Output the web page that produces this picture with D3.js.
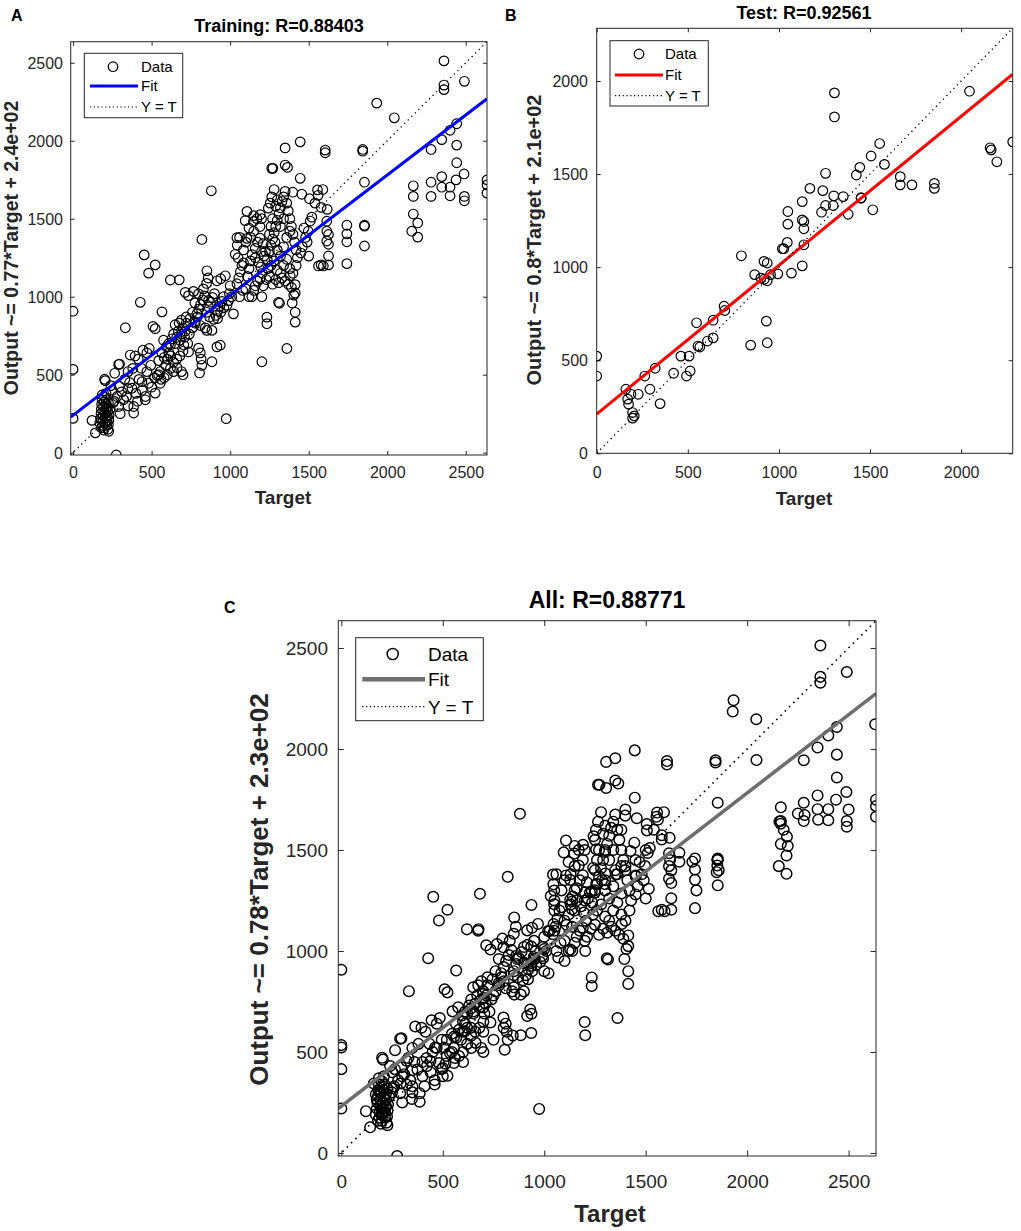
<!DOCTYPE html>
<html>
<head>
<meta charset="utf-8">
<script src="https://cdn.jsdelivr.net/npm/d3@7"></script>
<style>
  body { margin: 0; background: #fff; }
  svg { display: block; }
  text { font-family: "Liberation Sans", Arial, sans-serif; }
</style>
</head>
<body>
<svg id="chart" width="1021" height="1231"></svg>
<script>

// [target, output] pairs
const trainingPoints = [
  [0,907],[0,534],[0,220],[121,207],[142,127],[227,137],[275,-15],[975,218],[428,964],[453,1268],
  [523,1204],[481,1151],[333,801],[566,903],[509,810],[523,795],[364,626],[290,565],[205,462],[820,1367],
  [880,1679],[1202,583],[1361,668],[1314,958],[1234,869],[1234,827],[1414,900],[1414,837],[1414,1077],[1414,1024],
  [1382,1134],[1579,1204],[1626,1204],[1626,1261],[1743,1212],[1855,1325],[1743,1352],[1743,1403],[1743,1458],[1855,1458],
  [1855,1452],[1626,1336],[1626,1399],[1579,1573],[1605,1940],[1605,1923],[1844,1944],[1844,1933],[1855,1734],[1446,1993],
  [1350,1954],[1350,1844],[1365,1829],[1272,1823],[1446,1759],[1556,1685],[1456,1657],[1399,1670],[1505,1628],[1933,2241],
  [2045,2147],[2361,2512],[2491,2381],[2361,2357],[2361,2328],[2442,2109],[2400,2067],[2347,2007],[2279,1944],[2442,1972],
  [2442,1859],[2489,1787],[2438,1749],[2347,1770],[2279,1734],[2166,1711],[2166,1643],[2279,1643],[2347,1702],[2400,1702],
  [2400,1647],[2491,1643],[2491,1615],[2635,1749],[2635,1717],[2635,1664],[2166,1530],[2194,1473],[2156,1420],[2194,1382],
  // cluster near target 200
  [170,190],[175,220],[178,250],[180,280],[182,310],[185,340],[188,175],[190,205],[192,235],[195,265],
  [195,295],[198,325],[200,355],[200,160],[202,190],[205,220],[205,250],[208,280],[210,310],[212,340],
  [215,175],[215,205],[218,235],[220,265],[220,295],[222,150],[225,180],[228,210],[230,240],[185,370],
  [210,380],[225,320],[180,160],[195,145],[235,280],
  // band 230-560
  [386,254],[386,296],[375,413],[322,339],[280,360],[296,424],[290,296],[460,360],[439,455],[481,445],
  [520,480],[535,495],[545,500],[523,382],[555,445],[445,657],[485,668],[434,541],[460,339],[265,509],
  [296,568],[201,471],[250,400],[260,330],[310,390],[340,360],[350,300],[360,450],[400,380],[410,330],
  [420,470],[470,520],[495,560],[500,420],[440,400],[330,470],[300,250],[255,320],[240,430],[350,520],
  [380,540],[395,620],[415,600],[470,640],[350,410],
  // band 550-900
  [555,520],[576,721],[590,560],[600,600],[610,640],[620,690],[630,730],[640,760],[650,700],[660,740],
  [670,780],[680,720],[690,760],[700,800],[705,690],[710,740],[715,780],[720,830],[730,700],[735,646],
  [700,650],[680,620],[660,600],[640,580],[620,540],[600,500],[580,480],[560,470],[640,520],[662,545],
  [690,520],[700,500],[620,620],[650,820],[675,830],[690,850],[720,870],[740,760],[760,800],[775,840],
  [790,870],[799,670],[810,640],[815,600],[820,560],[805,511],[884,583],[916,678],[937,689],[852,784],
  [884,784],[778,830],[810,815],[842,800],[580,610],[610,700],[545,590],[565,640],[595,680],
  // cluster near target 900
  [788,890],[800,920],[812,950],[825,980],[838,1005],[850,900],[862,935],[875,965],[888,995],[900,1020],
  [910,880],[922,910],[935,940],[948,970],[958,1000],[870,870],[895,855],[920,860],[940,900],[960,930],
  [735,1007],[767,1034],[799,1018],[714,1028],[776,960],[830,1050],[850,1085],[860,1120],[852,1166],[862,976],
  [916,1102],[940,1115],[969,1134],[676,1108],[619,1107],[1021,890],[990,975],[995,1020],[1000,1070],[980,945],
  [1010,1000],[760,900],[745,860],
  // band 1040-1210
  [1043,1083],[1055,1120],[1065,1160],[1075,1200],[1085,1217],[1138,1000],[1150,1040],[1160,1070],[1175,1100],[1190,1115],
  [1202,1000],[1100,1050],[1110,1130],[1120,1180],[1130,1230],[1140,1270],[1160,1250],[1180,1220],[1195,1190],[1205,1150],
  [1215,1260],[1225,1290],[1060,1000],[1080,1040],[1120,1000],[1050,1250],[1085,1300],
  [1032,1272],[1045,1330],[1096,1488],[1148,1482],[1170,1500],[1191,1526],[1100,1350],[1130,1380],[1160,1310],
  [1175,1350],[1190,1375],[1200,1290],[1210,1340],[1150,1420],[1120,1440],[1190,1450],[1060,1380],
  [1107,1547],[1150,1520],[1200,1500],[1043,1378],[1107,1374],
  // cluster near target 1300
  [1243,1568],[1255,1600],[1265,1640],[1280,1687],[1290,1580],[1300,1620],[1265,1823],
  [1236,1240],[1250,1290],[1260,1330],[1270,1370],[1280,1410],[1290,1450],[1300,1490],[1310,1530],[1320,1570],
  [1330,1610],[1340,1640],[1350,1675],[1360,1600],[1370,1550],[1380,1500],[1390,1450],[1400,1400],[1410,1350],[1420,1300],
  [1428,1250],[1250,1400],[1260,1450],[1270,1500],[1285,1350],[1300,1300],[1320,1260],[1340,1320],[1360,1380],[1380,1420],
  [1320,1450],[1340,1500],[1240,1180],[1260,1200],[1280,1230],[1300,1170],[1320,1150],[1340,1200],[1360,1240],[1380,1180],
  [1400,1150],[1420,1200],[1211,1070],[1230,1110],[1250,1130],[1270,1080],[1290,1110],[1310,1090],[1330,1120],[1350,1100],
  [1370,1080],[1390,1060],[1405,1010],[1395,960],[1308,964],
  [1497,1420],[1510,1485],[1520,1510],[1540,1600],[1560,1650],[1590,1687],[1618,1560],[1562,1197],[1593,1197],[1615,1484],
  [1615,1420],[1615,1357],[1480,1380],[1460,1320],[1450,1280],[1470,1440],[1490,1350],[1500,1260]
];

const validationPoints = [
  [2631,2122],[1929,2185],[683,1283],[937,1228],[674,1100],[1199,648],[2200,1520],[2180,1600],[1850,1390],
  [250,300],[300,380],[400,450],[450,500],[520,560],[600,650],[650,690],[700,720],[750,780],[800,850],
  [850,880],[900,940],[950,960],[1000,1010],[1050,1100],[1100,1150],[1150,1200],[1200,1250],[1250,1300],
  [1300,1350],[1350,1400],[1400,1420],[1450,1450],[1500,1500],[180,250],[190,300],[200,200],[210,270],
  [220,230],[700,600],[750,560],[800,620],[900,800],[1000,900],[1100,950],[1200,1050],[1300,1500],[1250,1550],
  [1380,1600],[1400,1700],[1150,1300],[1050,1200],[950,1050],[850,820],[600,450],[500,380],[350,330],
  [1620,1450],[1750,1300],[1860,1400],[2250,1680],[2350,1650],[2500,1700]
];

const testPoints = [
  [0,522],[0,415],[160,344],[170,291],[175,264],[197,219],[197,189],[206,201],[188,317],[228,317],
  [264,415],[292,344],[321,457],[348,267],[422,430],[462,522],[493,415],[507,522],[513,442],[548,701],
  [556,576],[566,571],[608,603],[639,620],[639,715],[699,790],[703,767],[794,1061],[845,581],[867,960],
  [918,1031],[936,1022],[901,941],[920,935],[936,927],[931,710],[936,594],[954,960],[994,964],[1069,968],
  [1128,1007],[1019,1099],[1027,1099],[1137,1120],[1046,1133],[1049,1231],[1049,1299],[1128,1254],[1137,1245],[1137,1206],
  [1128,1352],[1170,1423],[1241,1411],[1234,1295],[1256,1331],[1298,1331],[1256,1504],[1301,1383],[1353,1379],[1451,1370],
  [1451,1373],[1380,1284],[1515,1308],[1425,1495],[1444,1536],[1506,1597],[1579,1552],[1553,1664],[1305,1936],[1305,1807],
  [1666,1486],[1666,1442],[1730,1442],[1853,1450],[1853,1423],[2046,1945],[2159,1641],[2165,1630],[2196,1566],[2283,1673]
];

const allPoints = trainingPoints.concat(validationPoints, testPoints);

// [slope, intercept]
const fitTraining = [0.77, 240];
const fitTest = [0.8, 210];
const fitAll = [0.775, 232];

const ticksAC = [0, 500, 1000, 1500, 2000, 2500];
const ticksB = [0, 500, 1000, 1500, 2000];

const titles = ['Training: R=0.88403', 'Test: R=0.92561', 'All: R=0.88771'];
const yLabels = ['Output ~= 0.77*Target + 2.4e+02', 'Output ~= 0.8*Target + 2.1e+02', 'Output ~= 0.78*Target + 2.3e+02'];
const xLabel = 'Target';
const legendLabels = ['Data', 'Fit', 'Y = T'];
const panelLetters = ['A', 'B', 'C'];

const svg = d3.select('#chart');
const axisColor = '#262626';

const panels = [
  { id: 'A', data: trainingPoints, fit: fitTraining, ticks: ticksAC, title: titles[0], ylab: yLabels[0], fitColor: '#0000ff',
    box: { x: 70.7, y: 41.7, w: 416.3, h: 413.3 }, tickLen: 4, tickFont: 16, xTickY: 478, yTickX: 63,
    letter: [11, 20.7, 16], titlePos: [279, 31.5, 18], xlabPos: [283, 504, 19], ylabPos: [17.5, 248, 19.5],
    r: 4.8, sw: 1.2, fitW: 3, dot: [1.3, '1.3,3.7'],
    leg: { x: 84.3, y: 53.3, w: 98.4, h: 64.4, rows: [66.7, 86, 107], cx: 113, lx: [90, 138], tx: 141, font: 15, r: 4.8, lw: 3 } },
  { id: 'B', data: testPoints, fit: fitTest, ticks: ticksB, title: titles[1], ylab: yLabels[1], fitColor: '#ff0000',
    box: { x: 596.7, y: 28.3, w: 416, h: 425 }, tickLen: 4, tickFont: 16, xTickY: 478, yTickX: 588,
    letter: [505, 20.7, 16], titlePos: [804, 18.5, 18], xlabPos: [804, 505, 19], ylabPos: [541, 240, 20],
    r: 4.8, sw: 1.2, fitW: 3, dot: [1.3, '1.3,3.7'],
    leg: { x: 610, y: 40.7, w: 98.3, h: 65.3, rows: [54, 75, 95.7], cx: 639, lx: [615, 663], tx: 665, font: 15, r: 4.8, lw: 3 } },
  { id: 'C', data: allPoints, fit: fitAll, ticks: ticksAC, title: titles[2], ylab: yLabels[2], fitColor: '#6e6e6e',
    box: { x: 338.3, y: 620.7, w: 537.7, h: 535.3 }, tickLen: 5.5, tickFont: 19, xTickY: 1188, yTickX: 328,
    letter: [224, 613, 16], titlePos: [607, 608, 23], xlabPos: [610, 1222, 24], ylabPos: [268, 889.5, 26],
    r: 5.3, sw: 1.45, fitW: 3.6, dot: [1.6, '1.6,4.4'],
    leg: { x: 355.7, y: 637.7, w: 127.6, h: 83, rows: [654, 679.3, 706.7], cx: 392.7, lx: [362.3, 425], tx: 428, font: 19, r: 5.6, lw: 4.5 } }
];

function drawPanel(p, idx) {
  const g = svg.append('g').attr('class', 'panel-' + p.id);
  const b = p.box;
  const ext = d3.extent(p.data.flat());

  const x = d3.scaleLinear().domain(ext).range([b.x, b.x + b.w]);
  const y = d3.scaleLinear().domain(ext).range([b.y + b.h, b.y]);

  const clipId = 'clip-' + p.id;
  g.append('clipPath').attr('id', clipId)
    .append('rect').attr('x', b.x).attr('y', b.y).attr('width', b.w).attr('height', b.h);

  /* Axes, ticks pointing inward on all sides */
  g.append('g').attr('transform', `translate(0,${b.y + b.h})`)
    .call(d3.axisBottom(x).tickValues(p.ticks).tickSize(-p.tickLen).tickFormat(d3.format('d')))
    .call(ax => ax.select('.domain').remove())
    .call(ax => ax.selectAll('line').attr('stroke', axisColor))
    .selectAll('text')
      .attr('y', p.xTickY - (b.y + b.h)).attr('dy', 0)
      .style('font-size', p.tickFont + 'px').attr('fill', axisColor);

  g.append('g').attr('transform', `translate(${b.x},0)`)
    .call(d3.axisLeft(y).tickValues(p.ticks).tickSize(-p.tickLen).tickFormat(d3.format('d')))
    .call(ax => ax.select('.domain').remove())
    .call(ax => ax.selectAll('line').attr('stroke', axisColor))
    .selectAll('text')
      .attr('x', p.yTickX - b.x).attr('dy', '0.35em')
      .style('font-size', p.tickFont + 'px').attr('fill', axisColor);

  g.append('g').attr('transform', `translate(0,${b.y})`)
    .call(d3.axisTop(x).tickValues(p.ticks).tickSize(-p.tickLen).tickFormat(''))
    .call(ax => ax.select('.domain').remove())
    .call(ax => ax.selectAll('line').attr('stroke', axisColor));

  g.append('g').attr('transform', `translate(${b.x + b.w},0)`)
    .call(d3.axisRight(y).tickValues(p.ticks).tickSize(-p.tickLen).tickFormat(''))
    .call(ax => ax.select('.domain').remove())
    .call(ax => ax.selectAll('line').attr('stroke', axisColor));

  const plot = g.append('g').attr('clip-path', `url(#${clipId})`);

  /* Data circles */
  plot.selectAll('circle.pt')
    .data(p.data).join('circle')
    .attr('class', 'pt')
    .attr('cx', d => x(d[0]))
    .attr('cy', d => y(d[1]))
    .attr('r', p.r)
    .attr('fill', 'none')
    .attr('stroke', '#000')
    .attr('stroke-width', p.sw);

  /* Fit line */
  const line = d3.line().x(d => x(d[0])).y(d => y(d[1]));
  plot.append('path')
    .datum(ext.map(t => [t, p.fit[0] * t + p.fit[1]]))
    .attr('d', line)
    .attr('fill', 'none').attr('stroke', p.fitColor).attr('stroke-width', p.fitW);

  /* Y = T */
  plot.append('path')
    .datum(ext.map(t => [t, t]))
    .attr('d', line)
    .attr('fill', 'none').attr('stroke', '#000').attr('stroke-width', p.dot[0])
    .attr('stroke-dasharray', p.dot[1]);

  /* Box */
  g.append('rect')
    .attr('x', b.x).attr('y', b.y).attr('width', b.w).attr('height', b.h)
    .attr('fill', 'none').attr('stroke', axisColor).attr('stroke-width', 1);

  /* Legend */
  const L = p.leg;
  const leg = g.append('g');
  leg.append('rect')
    .attr('x', L.x).attr('y', L.y).attr('width', L.w).attr('height', L.h)
    .attr('fill', '#fff').attr('stroke', axisColor).attr('stroke-width', 1);
  leg.append('circle')
    .attr('cx', L.cx).attr('cy', L.rows[0]).attr('r', L.r)
    .attr('fill', 'none').attr('stroke', '#000').attr('stroke-width', p.sw);
  leg.append('line')
    .attr('x1', L.lx[0]).attr('x2', L.lx[1]).attr('y1', L.rows[1]).attr('y2', L.rows[1])
    .attr('stroke', p.fitColor).attr('stroke-width', L.lw);
  leg.append('line')
    .attr('x1', L.lx[0]).attr('x2', L.lx[1]).attr('y1', L.rows[2]).attr('y2', L.rows[2])
    .attr('stroke', '#000').attr('stroke-width', 1.2).attr('stroke-dasharray', '1.2,2.6');
  leg.selectAll('text.leg')
    .data(legendLabels).join('text')
    .attr('class', 'leg')
    .attr('x', L.tx).attr('y', (d, i) => L.rows[i]).attr('dy', '0.36em')
    .style('font-size', L.font + 'px').attr('fill', '#000')
    .text(d => d);

  /* Titles and labels */
  g.append('text')
    .attr('x', p.titlePos[0]).attr('y', p.titlePos[1])
    .attr('text-anchor', 'middle').attr('font-weight', 'bold')
    .style('font-size', p.titlePos[2] + 'px').attr('fill', '#000')
    .text(p.title);

  g.append('text')
    .attr('x', p.xlabPos[0]).attr('y', p.xlabPos[1])
    .attr('text-anchor', 'middle').attr('font-weight', 'bold')
    .style('font-size', p.xlabPos[2] + 'px').attr('fill', axisColor)
    .text(xLabel);

  g.append('text')
    .attr('transform', `translate(${p.ylabPos[0]},${p.ylabPos[1]}) rotate(-90)`)
    .attr('text-anchor', 'middle').attr('font-weight', 'bold')
    .style('font-size', p.ylabPos[2] + 'px').attr('fill', axisColor)
    .text(p.ylab);

  g.append('text')
    .attr('x', p.letter[0]).attr('y', p.letter[1])
    .attr('font-weight', 'bold')
    .style('font-size', p.letter[2] + 'px').attr('fill', '#000')
    .text(panelLetters[idx]);
}

panels.forEach(drawPanel);
</script>
</body>
</html>
